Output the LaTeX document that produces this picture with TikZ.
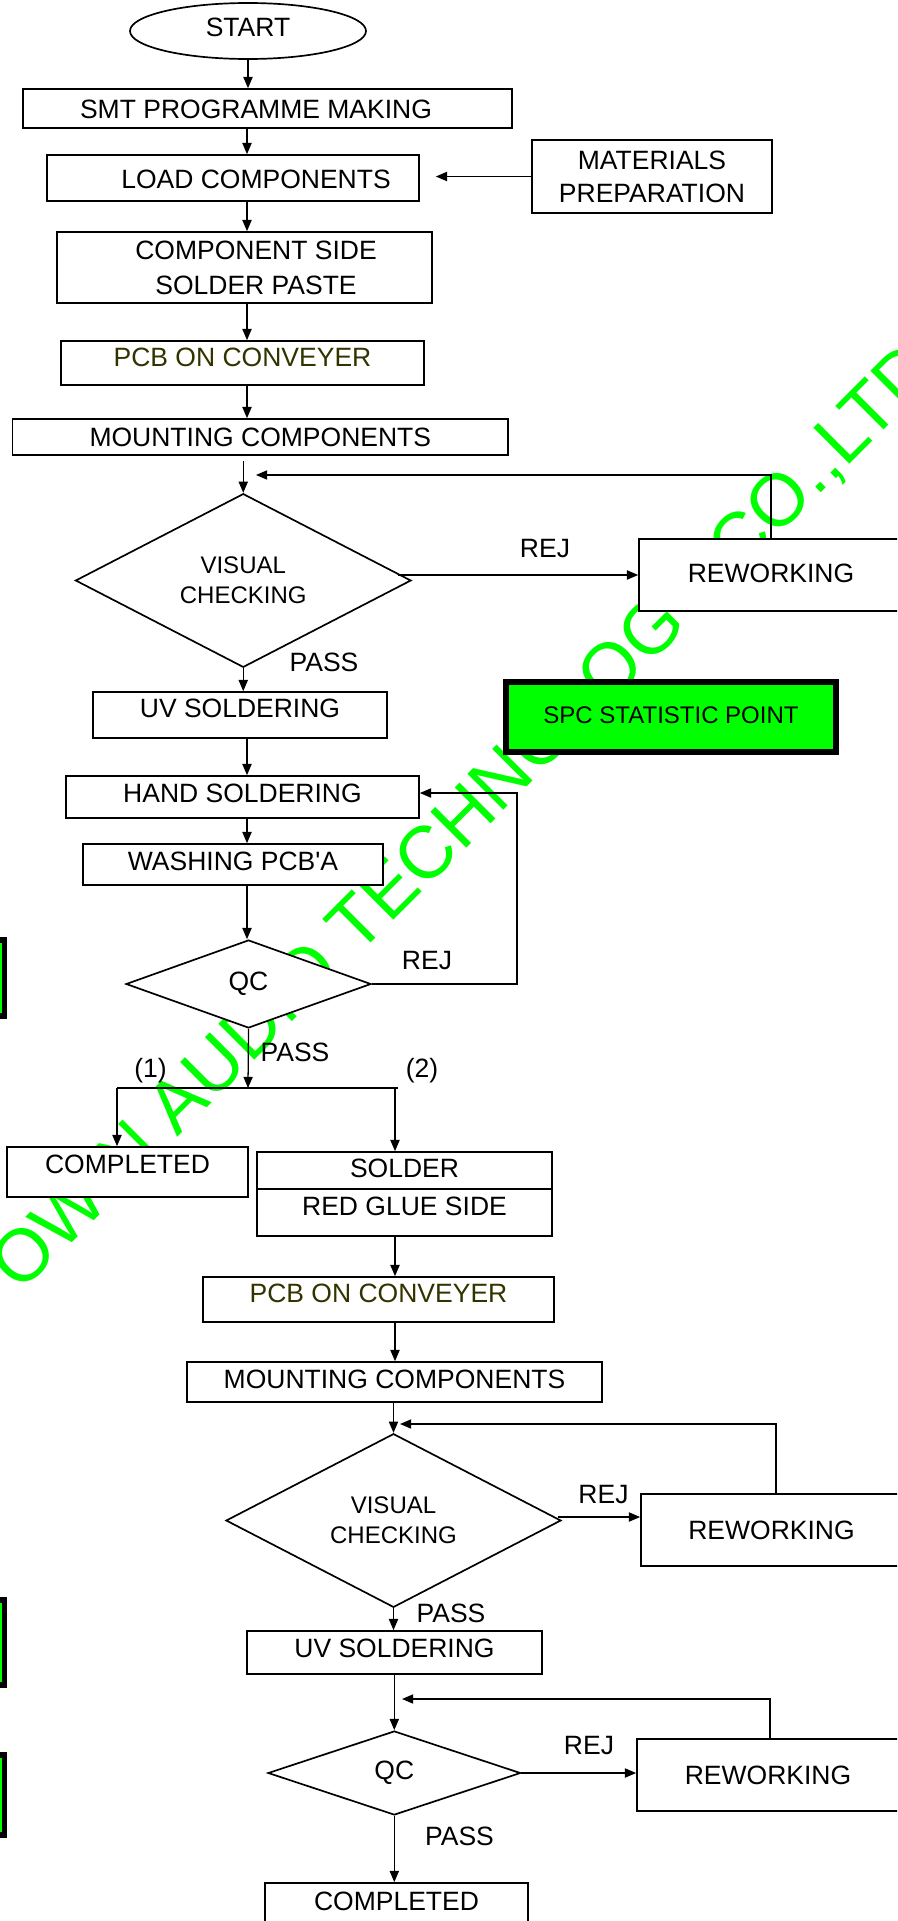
\documentclass[tikz,border=0pt]{standalone}
\usepackage{fontspec}
\setmainfont{Liberation Sans}
\usepackage{tikz}
\usetikzlibrary{positioning, arrows.meta, shapes.geometric, calc}
\definecolor{spcGreen}{HTML}{00FF00}
\definecolor{pcbText}{HTML}{333300}
\newcommand{\boxfont}{\fontsize{18.85pt}{22pt}\selectfont}
\newcommand{\tightfont}{\fontsize{17.07pt}{21.34pt}\selectfont}

\begin{document}
\begin{tikzpicture}[
  x=0.25mm, y=-0.25mm,
  every node/.style={font=\boxfont, inner sep=0pt},
  box/.style={rectangle, draw=black, line width=1.2pt, fill=white, align=center},
  decide/.style={diamond, draw=black, line width=1.2pt, fill=white, align=center},
  term/.style={ellipse, draw=black, line width=1.2pt, fill=white},
  spcbox/.style={rectangle, draw=black, line width=4pt, fill=spcGreen, minimum width=82.5mm},
  arr/.style={-{Triangle[length=2.8mm, width=2.3mm]}, line width=0.9pt},
  link/.style={line width=0.9pt},
  lbl/.style={font=\boxfont, inner sep=0pt},
  wmark/.style={font=\fontsize{52.6pt}{60pt}\selectfont, text=spcGreen, inner sep=0pt},
]
  \useasboundingbox (0,0) rectangle (897,1921);
  \clip (0,0) rectangle (897,1921);

  \coordinate (sp1)   at (247,0);
  \coordinate (sp2)   at (395,1088);
  \coordinate (back1) at (256,475);
  \coordinate (rej1s) at (398,575);
  \coordinate (back2) at (517,982);
  \coordinate (split) at (248,1088);
  \coordinate (br_l)  at (117,1088);
  \coordinate (br_r)  at (398,1088);
  \coordinate (back3) at (400,1424);
  \coordinate (rej3s) at (558,1517);
  \coordinate (back4) at (402,1699);

  % watermark, boxes are laid over it
  \node[wmark, rotate=45, anchor=base west] at (20.4,1294) (wm) {OWIN AUDIO TECHNOLOGY CO.,LTD};

  \node[term, minimum width=59mm, minimum height=14mm, text depth=1.75mm] at (248,31) (start) {START};
  \node[box, minimum width=122.25mm, minimum height=9.75mm] at (267.5,108.5) (smt) {};
  \node[lbl] at (256,109.5) (smt_t) {SMT PROGRAMME MAKING};
  \node[box, minimum width=93mm, minimum height=11.5mm] at (233,178) (load) {};
  \node[lbl] at (256,179.5) (load_t) {LOAD COMPONENTS};
  \node[box, minimum width=60mm, minimum height=18.25mm,
        font=\fontsize{18.85pt}{23.5pt}\selectfont] at (652,176.5) (mat) {MATERIALS\\PREPARATION};
  \node[box, minimum width=93.75mm, minimum height=17.75mm] at (244.5,267.5) (comp) {};
  \node[lbl, align=center, font=\fontsize{18.85pt}{24.9pt}\selectfont]
        at (256,267.5) (comp_t) {COMPONENT SIDE\\SOLDER PASTE};
  \node[box, minimum width=90.75mm, minimum height=11mm, text depth=3mm, text=pcbText]
        at (242.5,363) (pcb) {PCB ON CONVEYER};
  \node[box, minimum width=123.85mm, minimum height=9mm] at (260.3,437) (mount) {MOUNTING COMPONENTS};

  \node[decide, minimum width=83.9mm, minimum height=39.25mm, font=\tightfont]
        at (243.25,580.5) (vis) {VISUAL\\CHECKING};
  \node[box, minimum width=66mm, minimum height=18mm, text depth=1mm] at (771,575) (rew1) {REWORKING};
  \node[box, minimum width=73.5mm, minimum height=11.5mm, text depth=3.5mm] at (240,715) (uv) {UV SOLDERING};
  \node[spcbox, minimum height=17.6mm, font=\tightfont, text depth=1mm] at (671,717) (spc) {SPC STATISTIC POINT};
  \node[box, minimum width=88.25mm, minimum height=10.5mm, text depth=2mm] at (242.5,797) (hand) {HAND SOLDERING};
  \node[box, minimum width=75mm, minimum height=10.25mm, text depth=1.75mm]
        at (233,864.5) (wash) {WASHING PCB\textquotesingle A};
  \node[decide, minimum width=61.25mm, minimum height=22mm] at (248.5,984) (qc) {QC};

  \node[box, minimum width=60.25mm, minimum height=12.5mm, text depth=3.75mm] at (127.5,1172) (comp1) {COMPLETED};
  \node[box, minimum width=73.75mm, minimum height=9.25mm, text depth=1.25mm] at (404.5,1170.5) (sold) {SOLDER};
  \node[box, minimum width=73.75mm, minimum height=11.75mm, text depth=3.25mm, below=-1.2pt of sold] (glue) {RED GLUE SIDE};
  \node[box, minimum width=87.75mm, minimum height=11.25mm, text depth=3.25mm, text=pcbText]
        at (378.5,1299.5) (pcb2) {PCB ON CONVEYER};
  \node[box, minimum width=103.75mm, minimum height=10mm, text depth=1.5mm] at (394.5,1382) (mount2) {MOUNTING COMPONENTS};
  \node[decide, minimum width=83.75mm, minimum height=41.75mm, font=\tightfont]
        at (393.5,1520.5) (vis2) {VISUAL\\CHECKING};
  \node[box, minimum width=65.25mm, minimum height=18mm] at (771.5,1530) (rew2) {REWORKING};
  \node[box, minimum width=73.75mm, minimum height=10.75mm, text depth=2.25mm] at (394.5,1652.5) (uv2) {UV SOLDERING};
  \node[decide, minimum width=63.15mm, minimum height=21mm] at (394.3,1773) (qc2) {QC};
  \node[box, minimum width=65.5mm, minimum height=18mm] at (768,1775) (rew3) {REWORKING};
  \node[box, minimum width=65.75mm, minimum height=12.5mm, text depth=3.5mm] at (396.5,1908) (comp2) {COMPLETED};

  % spc markers cut by the left edge
  \node[spcbox, minimum height=19.1mm, anchor=east] at (7.15,978) (mark1) {};
  \node[spcbox, minimum height=21.3mm, anchor=east] at (7.15,1642.5) (mark2) {};
  \node[spcbox, minimum height=20.1mm, anchor=east] at (7.15,1795) (mark3) {};

  \node[lbl] at (545,549) (rej1) {REJ};
  \node[lbl] at (324,662) (pass1) {PASS};
  \node[lbl] at (427,961) (rej2) {REJ};
  \node[lbl] at (295,1052) (pass2) {PASS};
  \node[lbl] at (150.5,1071) (opt1) {(1)};
  \node[lbl] at (422,1071) (opt2) {(2)};
  \node[lbl] at (603.5,1494) (rej3) {REJ};
  \node[lbl] at (451,1613) (pass3) {PASS};
  \node[lbl] at (589,1745) (rej4) {REJ};
  \node[lbl] at (459.5,1836) (pass4) {PASS};

  % main line, first pass
  \draw[arr] (start.south) -- (start.south |- smt.north);
  \draw[arr] (smt.south -| sp1) -- (load.north -| sp1);
  \draw[arr, shorten >=4mm] (mat.west) -- (mat.west -| load.east);
  \draw[arr] (load.south -| sp1) -- (comp.north -| sp1);
  \draw[arr] (comp.south -| sp1) -- (pcb.north -| sp1);
  \draw[arr] (pcb.south -| sp1) -- (mount.north -| sp1);
  \draw[arr] ([yshift=-1.25mm]mount.south -| vis.north) -- (vis.north);
  \draw[arr] (rej1s) -- (rej1s -| rew1.west);
  \draw[arr] (rew1.north) |- (back1);
  \draw[arr] (vis.south) -- (vis.south |- uv.north);
  \draw[arr] (uv.south -| sp1) -- (hand.north -| sp1);
  \draw[arr] (hand.south -| sp1) -- (wash.north -| sp1);
  \draw[arr] (wash.south -| sp1) -- (qc.north -| sp1);
  \draw[arr] (qc.east) -- (qc.east -| back2) |- ([yshift=1mm]hand.east);

  % split into (1) and (2)
  \draw[arr] (qc.south) -- (split);
  \draw[link] (br_l) -- (br_r);
  \draw[arr] (br_l) -- (br_l |- comp1.north);
  \draw[arr] (sp2) -- (sp2 |- sold.north);

  % second pass
  \draw[arr] (glue.south -| sp2) -- (pcb2.north -| sp2);
  \draw[arr] (pcb2.south -| sp2) -- (mount2.north -| sp2);
  \draw[arr] (mount2.south -| vis2.north) -- (vis2.north);
  \draw[arr] (rej3s) -- (rej3s -| rew2.west);
  \draw[arr] ([xshift=1.1mm]rew2.north) |- (back3);
  \draw[arr] (vis2.south) -- (vis2.south |- uv2.north);
  \draw[arr] (uv2.south -| qc2.north) -- (qc2.north);
  \draw[arr] (qc2.east) -- (qc2.east -| rew3.west);
  \draw[arr] ([xshift=0.5mm]rew3.north) |- (back4);
  \draw[arr] (qc2.south) -- (qc2.south |- comp2.north);
\end{tikzpicture}
\end{document}
